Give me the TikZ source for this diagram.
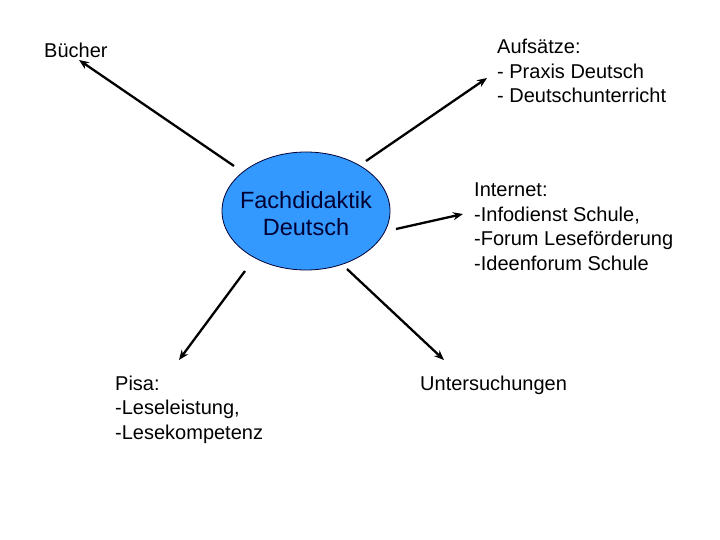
\documentclass[tikz,border=0pt]{standalone}
\usepackage{fontspec}
\setmainfont{Liberation Sans}
\usetikzlibrary{arrows.meta,shapes.geometric}
\definecolor{ellfill}{RGB}{51,153,255}
\definecolor{navy}{RGB}{0,0,51}
\tikzset{
  lbl/.style={font=\fontsize{20}{24.5}\selectfont, align=left, anchor=base west, inner sep=0pt},
  conn/.style={line width=2.3pt, -{Stealth[length=10pt,width=8pt]}}
}
\begin{document}
\begin{tikzpicture}[x=1pt,y=-1pt]
\useasboundingbox (0,0) rectangle (720,540);
\node[ellipse, draw=navy, line width=0.8pt, fill=ellfill, minimum width=168pt, minimum height=118pt, inner sep=0pt] (center) at (306,211) {};
\node[font=\fontsize{23.5}{28}\selectfont, text=navy, align=center, anchor=base] (ctext) at (306,236) {Fachdidaktik\\Deutsch};
\node[lbl] (buecher) at (44,58) {Bücher};
\node[lbl] (aufs) at (497,103) {Aufsätze:\\- Praxis Deutsch\\- Deutschunterricht};
\node[lbl] (internet) at (474,270) {Internet:\\-Infodienst Schule,\\-Forum Leseförderung\\-Ideenforum Schule};
\node[lbl] (pisa) at (115,439) {Pisa:\\-Leseleistung,\\-Lesekompetenz};
\node[lbl] (unters) at (420,390) {Untersuchungen};
\coordinate (a1s) at (234,166);
\coordinate (a1e) at (79,60);
\coordinate (a2s) at (366,161);
\coordinate (a2e) at (487,78);
\coordinate (a3s) at (396,229);
\coordinate (a3e) at (463,214);
\coordinate (a4s) at (245,271);
\coordinate (a4e) at (179,360);
\coordinate (a5s) at (347,269);
\coordinate (a5e) at (444,360);
\draw[conn] (a1s) -- (a1e);
\draw[conn] (a2s) -- (a2e);
\draw[conn] (a3s) -- (a3e);
\draw[conn] (a4s) -- (a4e);
\draw[conn] (a5s) -- (a5e);
\end{tikzpicture}
\end{document}
